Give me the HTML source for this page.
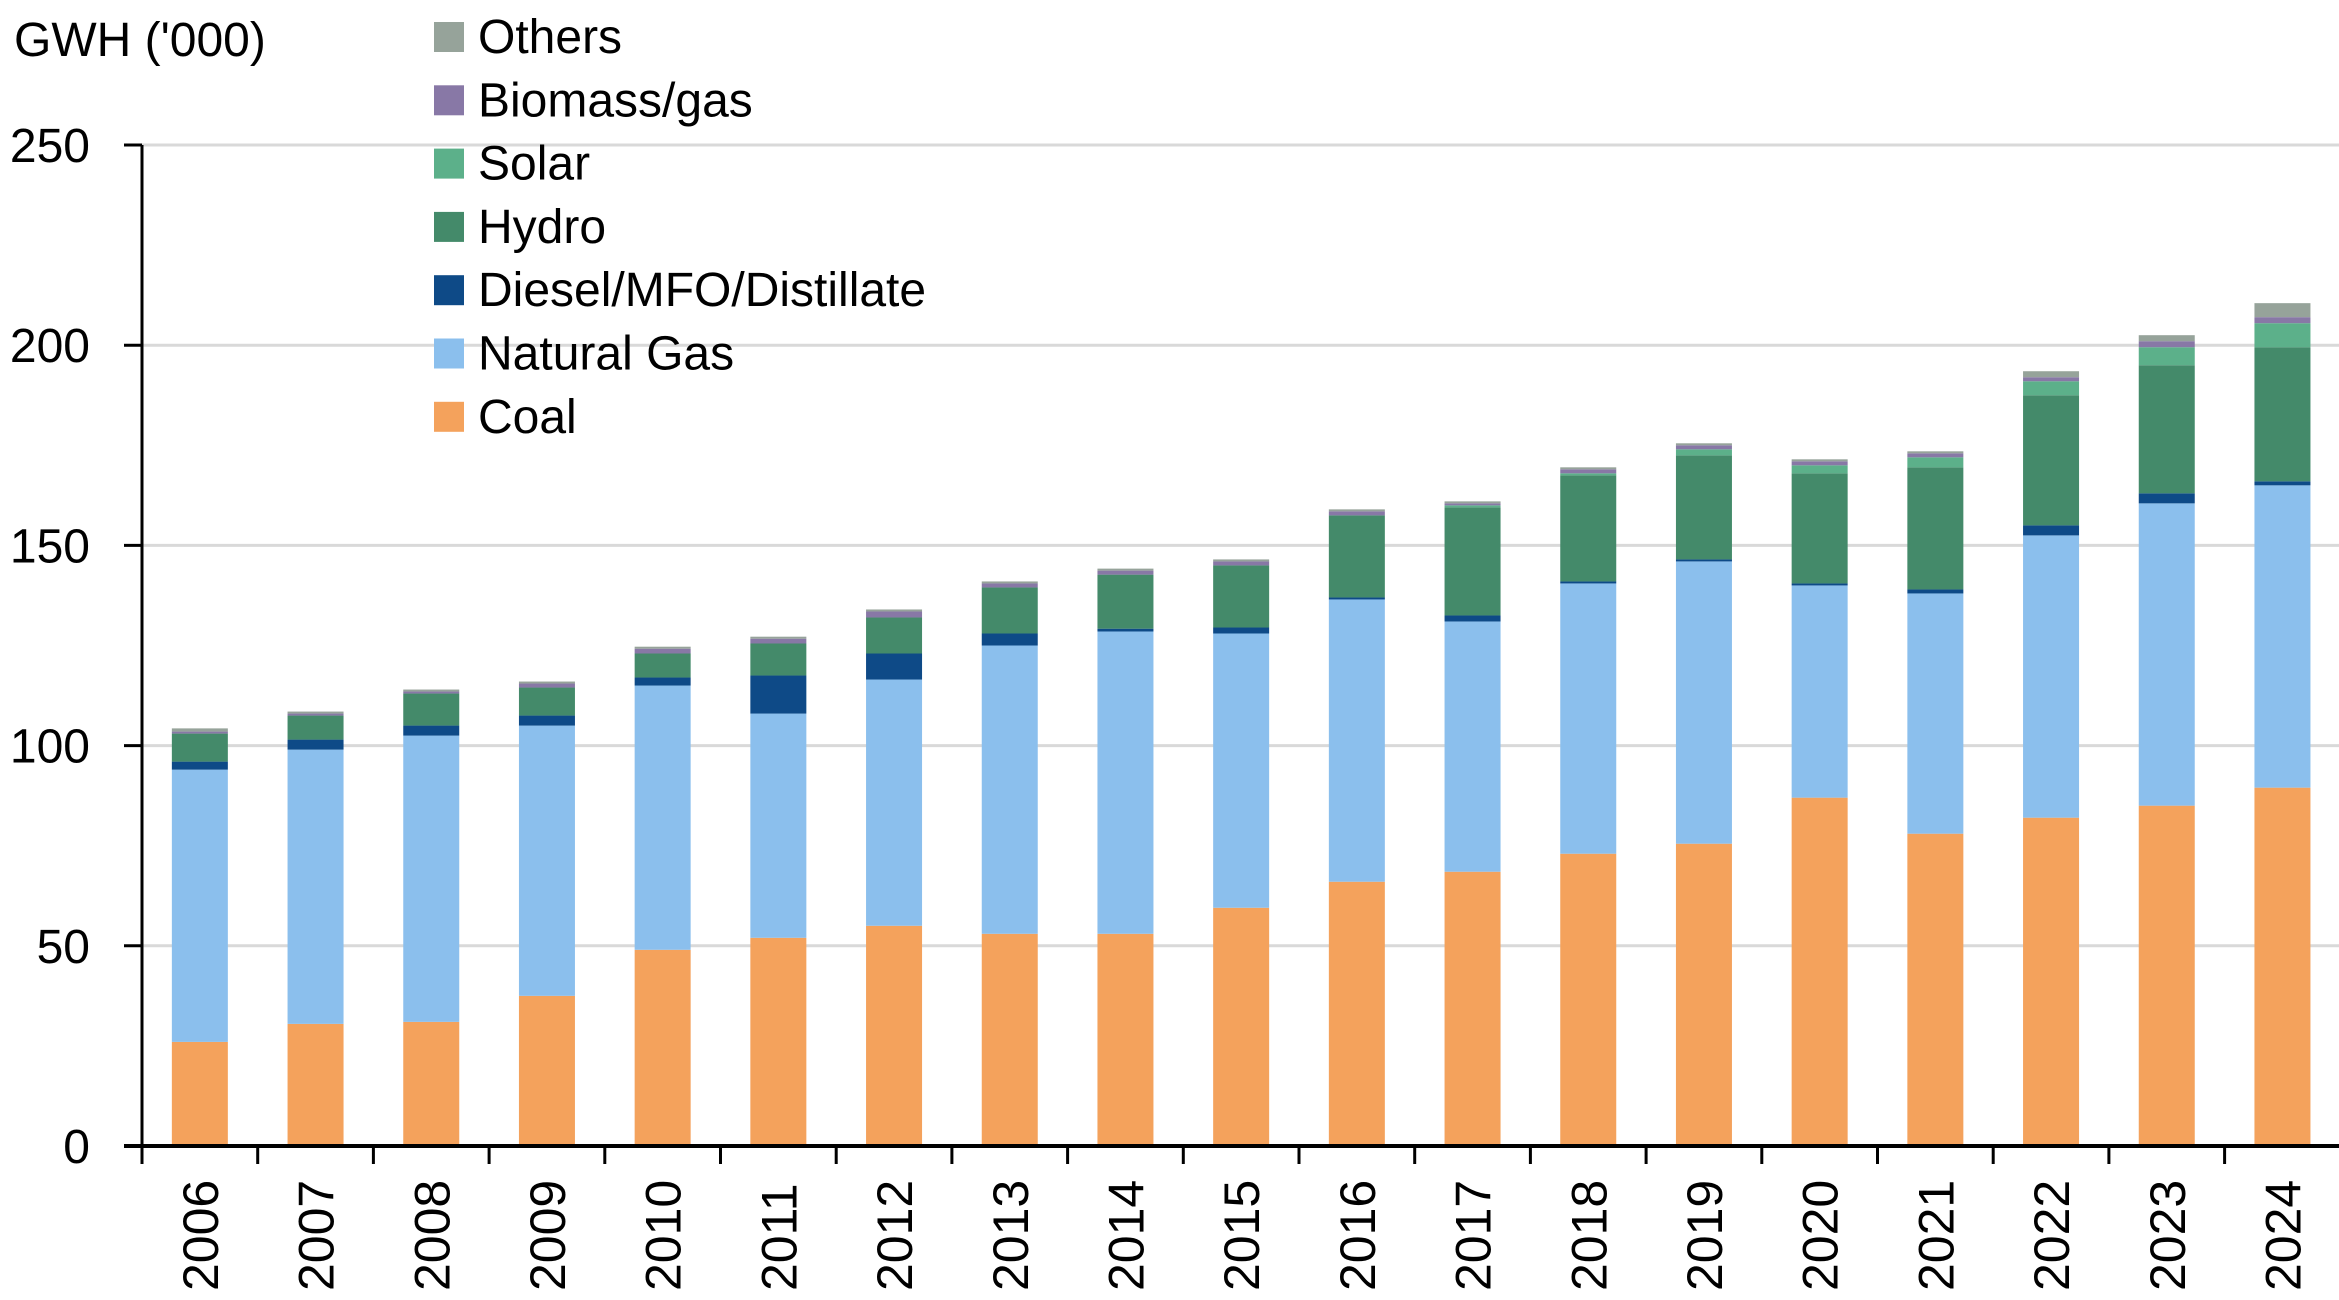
<!DOCTYPE html>
<html><head><meta charset="utf-8"><style>
html,body{margin:0;padding:0;background:#fff;}
svg{display:block;font-family:"Liberation Sans",sans-serif;}
</style></head><body>
<svg id="chart" width="2339" height="1300" viewBox="0 0 2339 1300" xmlns="http://www.w3.org/2000/svg">
<text x="14" y="56" font-size="48" fill="#000">GWH ('000)</text>
<g id="grid"></g><g id="bars"></g><g id="axes"></g><g id="legend"></g>
</svg>
<script>
const years=["2006","2007","2008","2009","2010","2011","2012","2013","2014","2015","2016","2017","2018","2019","2020","2021","2022","2023","2024"];
const coal=[26,30.5,31,37.5,49,52,55,53,53,59.5,66,68.5,73,75.5,87,78,82,85,89.5];
const gas=[68,68.5,71.5,67.5,66,56,61.5,72,75.5,68.5,70.5,62.5,67.5,70.5,53,60,70.5,75.5,75.5];
const diesel=[2,2.5,2.5,2.5,2,9.5,6.5,3,0.7,1.5,0.5,1.5,0.5,0.5,0.5,1,2.5,2.5,1];
const hydro=[7,6,8,7,6,8,9,11.5,13.5,15.5,20.5,27,26.5,26,27.5,30.5,32.5,32,33.5];
const solar=[0,0,0,0,0,0,0,0,0,0,0,0.5,0.5,1.5,2,2.5,3.5,4.5,6];
const biomass=[0.5,0.5,0.5,1,1.2,1.2,1.5,1,1,1,1,0.5,1,1,1,1,1,1.5,1.5];
const others=[0.8,0.5,0.5,0.5,0.5,0.5,0.5,0.5,0.5,0.5,0.5,0.5,0.5,0.5,0.5,0.5,1.5,1.5,3.5];
const yTicks=[0,50,100,150,200,250];
const seriesNames=["Coal","Natural Gas","Diesel/MFO/Distillate","Hydro","Solar","Biomass/gas","Others"];
const seriesData=[coal,gas,diesel,hydro,solar,biomass,others];
const colors=["#F4A25C","#8BBFED","#0E4A87","#448A6A","#5CB08A","#8878A6","#96A39A"];
const NS="http://www.w3.org/2000/svg";
const X0=142,Y0=1146,Ytop=145,catW=115.7,barW=56;
const y=v=>Y0-(v/250)*(Y0-Ytop);
const xc=i=>X0+catW*(i+0.5);
function mk(tag,attrs,parent){const e=document.createElementNS(NS,tag);for(const k in attrs)e.setAttribute(k,attrs[k]);parent.appendChild(e);return e;}
const grid=document.getElementById('grid'),bars=document.getElementById('bars'),axes=document.getElementById('axes'),legend=document.getElementById('legend');
yTicks.forEach(t=>{
  if(t>0){const g=mk('line',{x1:X0,x2:2339,y1:y(t),y2:y(t),stroke:'#d9d9d9','stroke-width':3},grid);
  
  }
  const tk=mk('line',{x1:124,x2:X0,y1:y(t),y2:y(t),stroke:'#000','stroke-width':3},axes);
  
  
  const lb=mk('text',{x:90,y:y(t)+17,'font-size':48,'text-anchor':'end',fill:'#000'},axes);
  lb.textContent=t;
  
  
});
years.forEach((yr,i)=>{
  let base=0;
  seriesData.forEach((s,k)=>{
    const v=s[i];if(v<=0)return;
    const r=mk('rect',{x:xc(i)-barW/2,y:y(base+v),width:barW,height:y(base)-y(base+v),fill:colors[k]},bars);
    
    
    base+=v;
  });
  const tk=mk('line',{x1:X0+catW*i,x2:X0+catW*i,y1:Y0,y2:Y0+18,stroke:'#000','stroke-width':3},axes);
  
  
  const lb=mk('text',{x:0,y:0,'font-size':50,'text-anchor':'start',fill:'#000',transform:`translate(${xc(i)+18},1291) rotate(-90)`},axes);
  lb.textContent=yr;
  
  
});
const ya=mk('line',{x1:X0,x2:X0,y1:Ytop,y2:Y0+18,stroke:'#000','stroke-width':3},axes);


const xa=mk('line',{x1:124,x2:2339,y1:Y0,y2:Y0,stroke:'#000','stroke-width':4},axes);


for(let j=0;j<7;j++){
  const k=6-j;const top=22+j*63.3;
  const g=mk('g',{},legend);
  
  
  mk('rect',{x:434,y:top,width:30,height:30,fill:colors[k]},g);
  const t=mk('text',{x:478,y:top+31,'font-size':48,fill:'#000'},g);
  t.textContent=seriesNames[k];
}
</script>
</body></html>
